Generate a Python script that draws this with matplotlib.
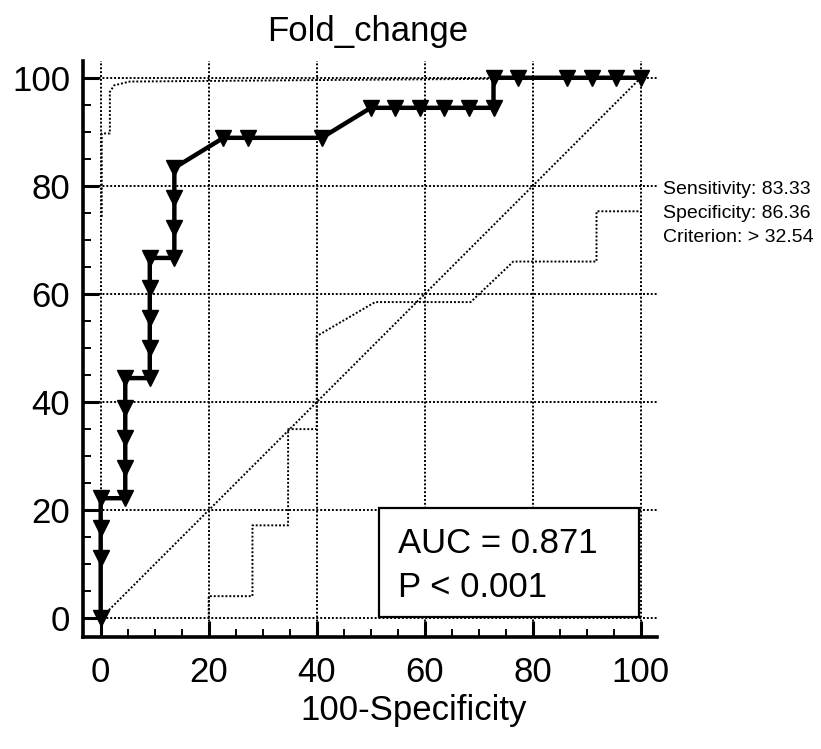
import matplotlib.pyplot as plt
from matplotlib.patches import Rectangle
from matplotlib.ticker import MultipleLocator

plt.rcParams['font.family'] = ['Liberation Sans', 'DejaVu Sans']

# ROC curve (100-Specificity, Sensitivity)
roc_x = [0, 0, 0, 0, 4.55, 4.55, 4.55, 4.55, 4.55, 9.09, 9.09, 9.09, 9.09, 9.09,
         13.64, 13.64, 13.64, 13.64, 22.73, 27.27, 40.91, 50, 54.55, 59.09, 63.64,
         68.18, 72.73, 72.73, 77.27, 86.36, 90.91, 95.45, 100]
roc_y = [0, 11.11, 16.67, 22.22, 22.22, 27.78, 33.33, 38.89, 44.44, 44.44, 50, 55.56,
         61.11, 66.67, 66.67, 72.22, 77.78, 83.33, 88.89, 88.89, 88.89, 94.44, 94.44,
         94.44, 94.44, 94.44, 94.44, 100, 100, 100, 100, 100, 100]

# confidence bounds
upper_x = [0.2, 0.2, 1.7, 1.7, 2.5, 5.4, 44, 100]
upper_y = [74.3, 89.7, 89.7, 97.4, 98.6, 99.3, 99.6, 100]
lower_x = [20, 20, 28.1, 28.1, 34.7, 34.7, 40, 40, 50.8, 68.5, 76.4, 91.8, 91.8, 100]
lower_y = [0, 4.1, 4.1, 17.2, 17.2, 35, 35, 52.2, 58.5, 58.5, 66, 66, 75.3, 75.3]

ticks = [0, 20, 40, 60, 80, 100]
title = "Fold_change"
xlabel = "100-Specificity"
auc_text = "AUC = 0.871"
p_text = "P < 0.001"
crit_lines = ["Sensitivity: 83.33", "Specificity: 86.36", "Criterion: > 32.54"]

W, H = 821, 749
fig = plt.figure(figsize=(W / 100, H / 100), dpi=100)
ax = fig.add_axes([82.7 / W, (H - 636.7) / H, (657 - 82.7) / W, (636.7 - 61) / H])
ax.set_xlim(-3.33, 103.0)
ax.set_ylim(-3.4, 103.1)

dot = (0, (1, 1))
for t in ticks:
    ax.axvline(t, color='black', lw=1.4, ls=dot, zorder=1)
    ax.axhline(t, color='black', lw=1.4, ls=dot, zorder=1)

ax.plot([0, 100], [0, 100], color='black', lw=1.4, ls=dot, zorder=2)
ax.plot(upper_x, upper_y, color='black', lw=1.4, ls=dot, zorder=2)
ax.plot(lower_x, lower_y, color='black', lw=1.4, ls=dot, zorder=2)
ax.plot(roc_x, roc_y, color='black', lw=3.2, marker='v', ms=11, zorder=4)

for s in ['top', 'right']:
    ax.spines[s].set_visible(False)
for s in ['left', 'bottom']:
    ax.spines[s].set_linewidth(2.6)

ax.set_xticks(ticks)
ax.set_yticks(ticks)
ax.xaxis.set_minor_locator(MultipleLocator(5))
ax.yaxis.set_minor_locator(MultipleLocator(5))
ax.tick_params(which='major', direction='in', length=11.5, width=2.2, labelsize=25)
ax.tick_params(which='minor', direction='in', length=5.5, width=1.4)
ax.tick_params(axis='x', which='major', pad=14)
ax.tick_params(axis='y', which='major', pad=9)

box = Rectangle(((379.3 - 82.7) / (657 - 82.7), (636.7 - 616.7) / (636.7 - 61)),
                (639.3 - 379.3) / (657 - 82.7), (616.7 - 508) / (636.7 - 61),
                transform=ax.transAxes, facecolor='white', edgecolor='black',
                lw=1.6, zorder=5)
ax.add_patch(box)
fig.text(398 / W, 1 - 553 / H, auc_text, fontsize=25, va='baseline', zorder=6)
fig.text(398 / W, 1 - 597 / H, p_text, fontsize=25, va='baseline', zorder=6)

fig.text(368 / W, 1 - 41 / H, title, fontsize=25, ha='center', va='baseline')
fig.text(414 / W, 1 - 720 / H, xlabel, fontsize=25, ha='center', va='baseline')

for i, line in enumerate(crit_lines):
    fig.text(663 / W, 1 - (190 + 23.5 * i) / H, line, fontsize=14, va='center')

fig.savefig("out.png", dpi=100)
